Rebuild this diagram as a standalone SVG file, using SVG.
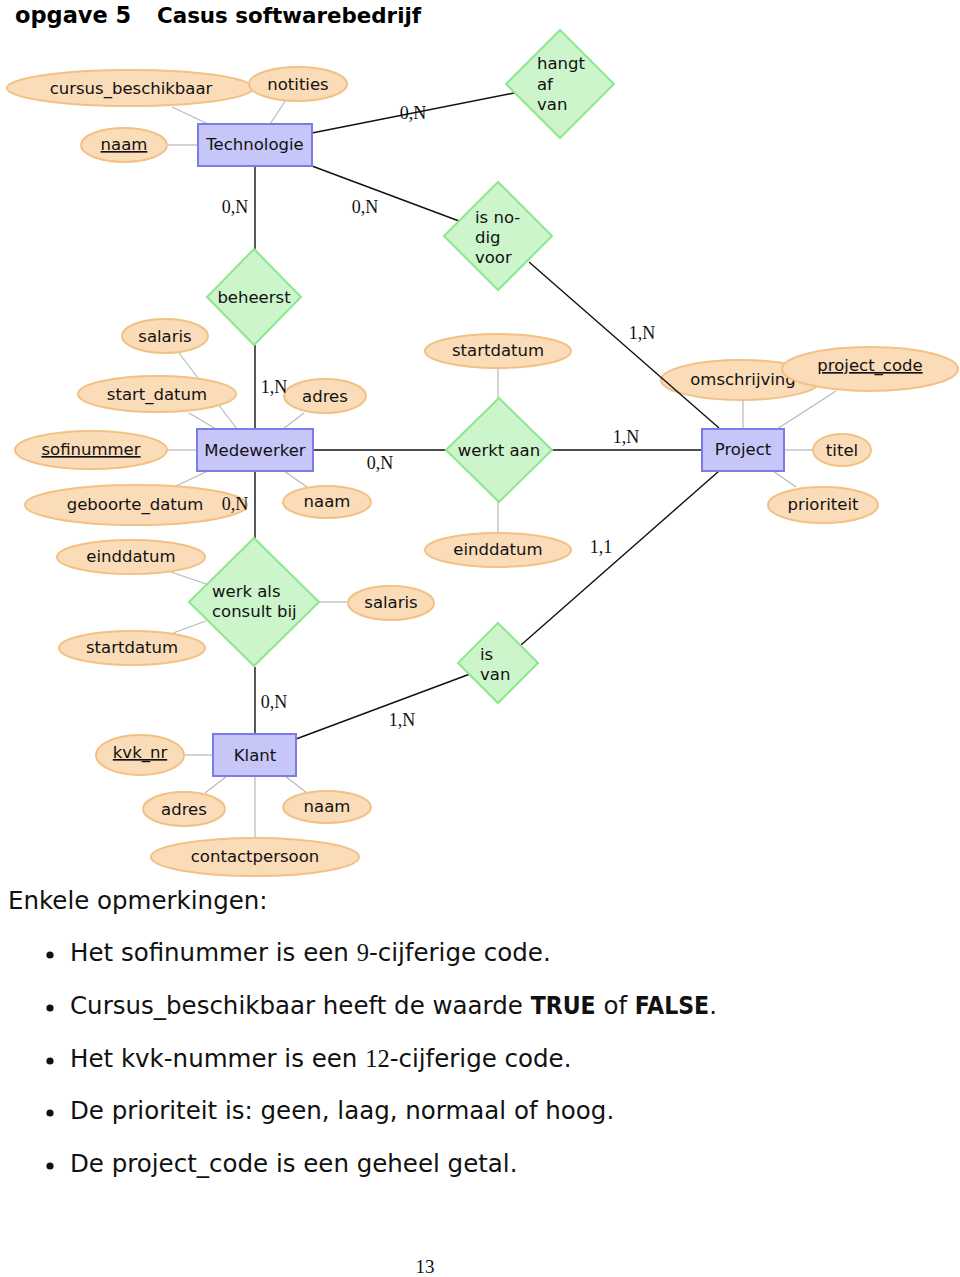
<svg xmlns="http://www.w3.org/2000/svg" width="960" height="1277" viewBox="0 0 960 1277">
<style>
.ent{fill:#c6c6f8;stroke:#7c7ce4;stroke-width:2}
.rel{fill:#ccf5cc;stroke:#8ee68e;stroke-width:2}
.att{fill:#fbdcb8;stroke:#f2c184;stroke-width:2}
.t{font-family:"DejaVu Sans",sans-serif;font-size:16.5px;fill:#111}
.c{text-anchor:middle}
.card{font-family:"Liberation Serif",serif;font-size:18px;fill:#111;text-anchor:middle}
.al{stroke:#b8b8b8;stroke-width:1.2;fill:none}
.rl{stroke:#111;stroke-width:1.4;fill:none}
.body{font-family:"DejaVu Sans",sans-serif;font-size:24.5px;fill:#111}
.num{font-family:"Liberation Serif",serif}
.b{font-family:"DejaVu Sans",sans-serif;font-weight:bold;font-stretch:condensed}
</style>
<rect x="0" y="0" width="960" height="1277" fill="#ffffff"/>
<g id="title">
<text x="15" y="23" font-family="DejaVu Sans,sans-serif" font-weight="bold" font-size="22.5" fill="#000">opgave 5</text>
<text x="157" y="23" font-family="DejaVu Sans,sans-serif" font-weight="bold" font-size="21.4" fill="#000">Casus softwarebedrijf</text>
</g>
<g id="attr-omschrijving"><ellipse class="att" cx="741" cy="380" rx="80" ry="20"/><text class="t c" x="743" y="385">omschrijving</text></g>
<g id="connectors">
<line class="al" x1="172" y1="107" x2="208" y2="124"/>
<line class="al" x1="286" y1="100" x2="270" y2="124"/>
<line class="al" x1="168" y1="145" x2="198" y2="145"/>
<line class="al" x1="166" y1="336" x2="237" y2="429"/>
<line class="al" x1="189" y1="413" x2="216" y2="429"/>
<line class="al" x1="304" y1="413" x2="283" y2="429"/>
<line class="al" x1="167" y1="450" x2="197" y2="450"/>
<line class="al" x1="176" y1="486" x2="208" y2="471"/>
<line class="al" x1="307" y1="487" x2="284" y2="471"/>
<line class="al" x1="498" y1="368" x2="498" y2="398"/>
<line class="al" x1="498" y1="502" x2="498" y2="533"/>
<line class="al" x1="743" y1="400" x2="743" y2="429"/>
<line class="al" x1="836" y1="391" x2="777" y2="429"/>
<line class="al" x1="784" y1="450" x2="813" y2="450"/>
<line class="al" x1="773" y1="471" x2="796" y2="487"/>
<line class="al" x1="171" y1="572" x2="206" y2="584"/>
<line class="al" x1="173" y1="633" x2="206" y2="621"/>
<line class="al" x1="319" y1="602" x2="348" y2="602"/>
<line class="al" x1="184" y1="755" x2="213" y2="755"/>
<line class="al" x1="205" y1="793" x2="227" y2="776"/>
<line class="al" x1="285" y1="776" x2="307" y2="793"/>
<line class="al" x1="255" y1="776" x2="255" y2="838"/>
<line class="rl" x1="312" y1="133" x2="514" y2="93"/>
<line class="rl" x1="312" y1="166" x2="459" y2="221"/>
<line class="rl" x1="529" y1="262" x2="719" y2="428"/>
<line class="rl" x1="255" y1="166" x2="255" y2="249"/>
<line class="rl" x1="255" y1="345" x2="255" y2="429"/>
<line class="rl" x1="313" y1="450" x2="446" y2="450"/>
<line class="rl" x1="552" y1="450" x2="702" y2="450"/>
<line class="rl" x1="255" y1="471" x2="255" y2="538"/>
<line class="rl" x1="255" y1="667" x2="255" y2="734"/>
<line class="rl" x1="296" y1="739" x2="470" y2="674"/>
<line class="rl" x1="521" y1="645" x2="719" y2="471"/>
</g>
<g id="ent-technologie"><rect class="ent" x="198" y="124" width="114" height="42"/><text class="t c" x="255" y="150">Technologie</text></g>
<g id="ent-medewerker"><rect class="ent" x="197" y="429" width="116" height="42"/><text class="t c" x="255" y="456">Medewerker</text></g>
<g id="ent-project"><rect class="ent" x="702" y="429" width="82" height="42"/><text class="t c" x="743" y="455">Project</text></g>
<g id="ent-klant"><rect class="ent" x="213" y="734" width="83" height="42"/><text class="t c" x="255" y="761">Klant</text></g>
<g id="rel-hangt"><polygon class="rel" points="560,30 614,84 560,138 506,84"/><text class="t" x="537" y="69">hangt</text><text class="t" x="537" y="90">af</text><text class="t" x="537" y="110">van</text></g>
<g id="rel-nodig"><polygon class="rel" points="498,182 552,236 498,290 444,236"/><text class="t" x="475" y="223">is no-</text><text class="t" x="475" y="243">dig</text><text class="t" x="475" y="263">voor</text></g>
<g id="rel-beheerst"><polygon class="rel" points="254,249 301,297 254,345 207,297"/><text class="t c" x="254" y="303">beheerst</text></g>
<g id="rel-werkt"><polygon class="rel" points="499,398 552,450 499,502 446,450"/><text class="t c" x="499" y="456">werkt aan</text></g>
<g id="rel-consult"><polygon class="rel" points="254,538 319,602 254,666 189,602"/><text class="t" x="212" y="597">werk als</text><text class="t" x="212" y="617">consult bij</text></g>
<g id="rel-isvan"><polygon class="rel" points="498,623 538,663 498,703 458,663"/><text class="t" x="480" y="660">is</text><text class="t" x="480" y="680">van</text></g>
<g id="attr-cursus"><ellipse class="att" cx="130" cy="88" rx="123" ry="18"/><text class="t c" x="131" y="94">cursus_beschikbaar</text></g>
<g id="attr-notities"><ellipse class="att" cx="298" cy="84" rx="49" ry="17"/><text class="t c" x="298" y="90">notities</text></g>
<g id="attr-tnaam"><ellipse class="att" cx="124" cy="145" rx="43" ry="17"/><text class="t c" x="124" y="150" text-decoration="underline">naam</text></g>
<g id="attr-msalaris"><ellipse class="att" cx="165" cy="336" rx="43" ry="17"/><text class="t c" x="165" y="342">salaris</text></g>
<g id="attr-startdatum-m"><ellipse class="att" cx="157" cy="394" rx="79" ry="18"/><text class="t c" x="157" y="400">start_datum</text></g>
<g id="attr-madres"><ellipse class="att" cx="325" cy="396" rx="41" ry="17"/><text class="t c" x="325" y="402">adres</text></g>
<g id="attr-sofinummer"><ellipse class="att" cx="91" cy="450" rx="76" ry="19"/><text class="t c" x="91" y="455" text-decoration="underline">sofinummer</text></g>
<g id="attr-geboorte"><ellipse class="att" cx="136" cy="505" rx="111" ry="20"/><text class="t c" x="135" y="510">geboorte_datum</text></g>
<g id="attr-mnaam"><ellipse class="att" cx="327" cy="502" rx="44" ry="16"/><text class="t c" x="327" y="507">naam</text></g>
<g id="attr-wstart"><ellipse class="att" cx="498" cy="351" rx="73" ry="17"/><text class="t c" x="498" y="356">startdatum</text></g>
<g id="attr-weind"><ellipse class="att" cx="498" cy="550" rx="73" ry="17"/><text class="t c" x="498" y="555">einddatum</text></g>
<g id="attr-projectcode"><ellipse class="att" cx="870" cy="369" rx="88" ry="22"/><text class="t c" x="870" y="371" text-decoration="underline">project_code</text></g>
<g id="attr-titel"><ellipse class="att" cx="842" cy="450" rx="29" ry="16"/><text class="t c" x="842" y="456">titel</text></g>
<g id="attr-prioriteit"><ellipse class="att" cx="823" cy="505" rx="55" ry="18"/><text class="t c" x="823" y="510">prioriteit</text></g>
<g id="attr-ceind"><ellipse class="att" cx="131" cy="557" rx="74" ry="17"/><text class="t c" x="131" y="562">einddatum</text></g>
<g id="attr-cstart"><ellipse class="att" cx="132" cy="648" rx="73" ry="17"/><text class="t c" x="132" y="653">startdatum</text></g>
<g id="attr-csalaris"><ellipse class="att" cx="391" cy="603" rx="43" ry="17"/><text class="t c" x="391" y="608">salaris</text></g>
<g id="attr-kvk"><ellipse class="att" cx="140" cy="755" rx="44" ry="20"/><text class="t c" x="140" y="758" text-decoration="underline">kvk_nr</text></g>
<g id="attr-kadres"><ellipse class="att" cx="184" cy="809" rx="41" ry="17"/><text class="t c" x="184" y="815">adres</text></g>
<g id="attr-knaam"><ellipse class="att" cx="327" cy="807" rx="44" ry="16"/><text class="t c" x="327" y="812">naam</text></g>
<g id="attr-contact"><ellipse class="att" cx="255" cy="857" rx="104" ry="19"/><text class="t c" x="255" y="862">contactpersoon</text></g>
<g id="cardinalities">
<text class="card" x="413" y="119">0,N</text>
<text class="card" x="235" y="213">0,N</text>
<text class="card" x="365" y="213">0,N</text>
<text class="card" x="642" y="339">1,N</text>
<text class="card" x="274" y="393">1,N</text>
<text class="card" x="380" y="469">0,N</text>
<text class="card" x="626" y="443">1,N</text>
<text class="card" x="235" y="510">0,N</text>
<text class="card" x="601" y="553">1,1</text>
<text class="card" x="274" y="708">0,N</text>
<text class="card" x="402" y="726">1,N</text>
</g>
<g id="notes">
<text class="body" x="8" y="909">Enkele opmerkingen:</text>
<circle cx="50" cy="955" r="3.6" fill="#111"/>
<circle cx="50" cy="1008" r="3.6" fill="#111"/>
<circle cx="50" cy="1061" r="3.6" fill="#111"/>
<circle cx="50" cy="1113" r="3.6" fill="#111"/>
<circle cx="50" cy="1166" r="3.6" fill="#111"/>
<text class="body" x="70" y="961">Het sofinummer is een <tspan class="num">9</tspan>-cijferige code.</text>
<text class="body" x="70" y="1014">Cursus_beschikbaar heeft de waarde <tspan class="b">TRUE</tspan> of <tspan class="b">FALSE</tspan>.</text>
<text class="body" x="70" y="1067">Het kvk-nummer is een <tspan class="num">12</tspan>-cijferige code.</text>
<text class="body" x="70" y="1119">De prioriteit is: geen, laag, normaal of hoog.</text>
<text class="body" x="70" y="1172">De project_code is een geheel getal.</text>
<text x="425" y="1273" font-family="Liberation Serif,serif" font-size="19" text-anchor="middle" fill="#111">13</text>
</g>
</svg>
